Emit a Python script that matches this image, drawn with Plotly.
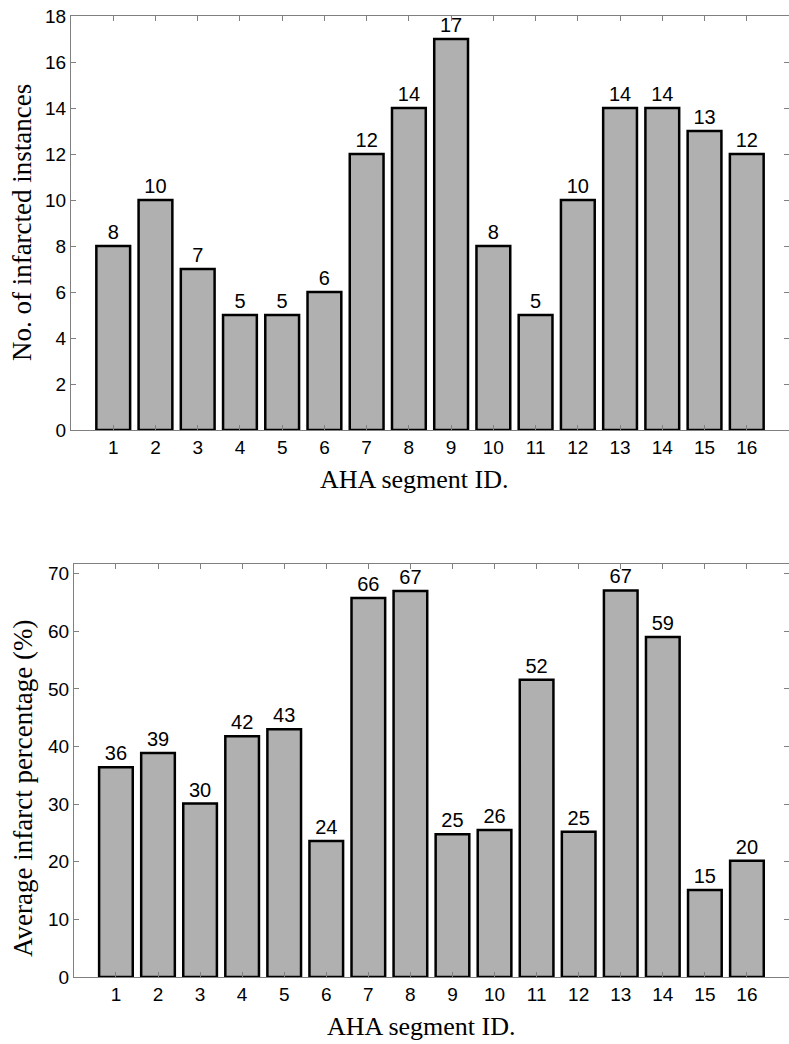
import plotly.graph_objects as go
from plotly.subplots import make_subplots

segments = list(range(1, 17))
infarct_counts = [8, 10, 7, 5, 5, 6, 12, 14, 17, 8, 5, 10, 14, 14, 13, 12]
avg_percent = [36.4, 38.9, 30.1, 41.8, 43.0, 23.6, 65.8, 67.0, 24.8, 25.5, 51.6, 25.2, 67.1, 59.0, 15.1, 20.2]
xlabel = "AHA segment ID."
ylabel_top = "No. of infarcted instances"
ylabel_bottom = "Average infarct percentage (%)"

SANS = "Liberation Sans, Arial, sans-serif"
SERIF = "Liberation Serif, Times New Roman, serif"

fig = make_subplots(rows=2, cols=1)

bar_style = dict(marker=dict(color="#b0b0b0", line=dict(color="black", width=2.5)),
                 width=0.8, textposition="outside", cliponaxis=False,
                 texttemplate="%{y:.0f}",
                 textfont=dict(family=SANS, size=20, color="black"),
                 showlegend=False)

fig.add_trace(go.Bar(x=segments, y=infarct_counts, **bar_style), row=1, col=1)
fig.add_trace(go.Bar(x=segments, y=avg_percent, **bar_style), row=2, col=1)

axis_common = dict(showline=True, linecolor="#808080", linewidth=1, mirror="ticks",
                   ticks="inside", ticklen=5, tickcolor="#808080", showgrid=False,
                   zeroline=False, automargin=False,
                   tickfont=dict(family=SANS, size=19, color="black"))

fig.update_xaxes(range=[0, 17], tickvals=segments, **axis_common)
fig.update_xaxes(domain=[0.0, 1.0], row=1, col=1)
fig.update_xaxes(domain=[0.004, 1.0], row=2, col=1)

fig.update_yaxes(**axis_common)
fig.update_yaxes(range=[0, 18], dtick=2, domain=[0.5692, 1.0], row=1, col=1)
fig.update_yaxes(range=[0, 71.7], tickvals=[0, 10, 20, 30, 40, 50, 60, 70], domain=[0.0, 0.4298], row=2, col=1)

xt_font = dict(family=SERIF, size=26, color="black")
yt_font = dict(family=SERIF, size=27, color="black")
annotations = [
    dict(text=xlabel, x=0.4784, y=0.518, xref="paper", yref="paper", showarrow=False,
         xanchor="center", yanchor="middle", font=xt_font),
    dict(text=xlabel, x=0.488, y=-0.052, xref="paper", yref="paper", showarrow=False,
         xanchor="center", yanchor="middle", font=xt_font),
    dict(text=ylabel_top, x=-0.0681, y=0.7846, xref="paper", yref="paper", showarrow=False,
         textangle=-90, xanchor="center", yanchor="middle", font=yt_font),
    dict(text=ylabel_bottom, x=-0.0668, y=0.1967, xref="paper", yref="paper", showarrow=False,
         textangle=-90, xanchor="center", yanchor="middle", font=yt_font),
]

fig.update_layout(width=789, height=1044, margin=dict(l=71, r=0, t=16, b=67),
                  plot_bgcolor="white", paper_bgcolor="white", bargap=0.2,
                  annotations=annotations)

fig.write_html("out.html", config={"displayModeBar": False},
               post_script="document.body.style.margin='0px';document.body.style.overflow='hidden';")
